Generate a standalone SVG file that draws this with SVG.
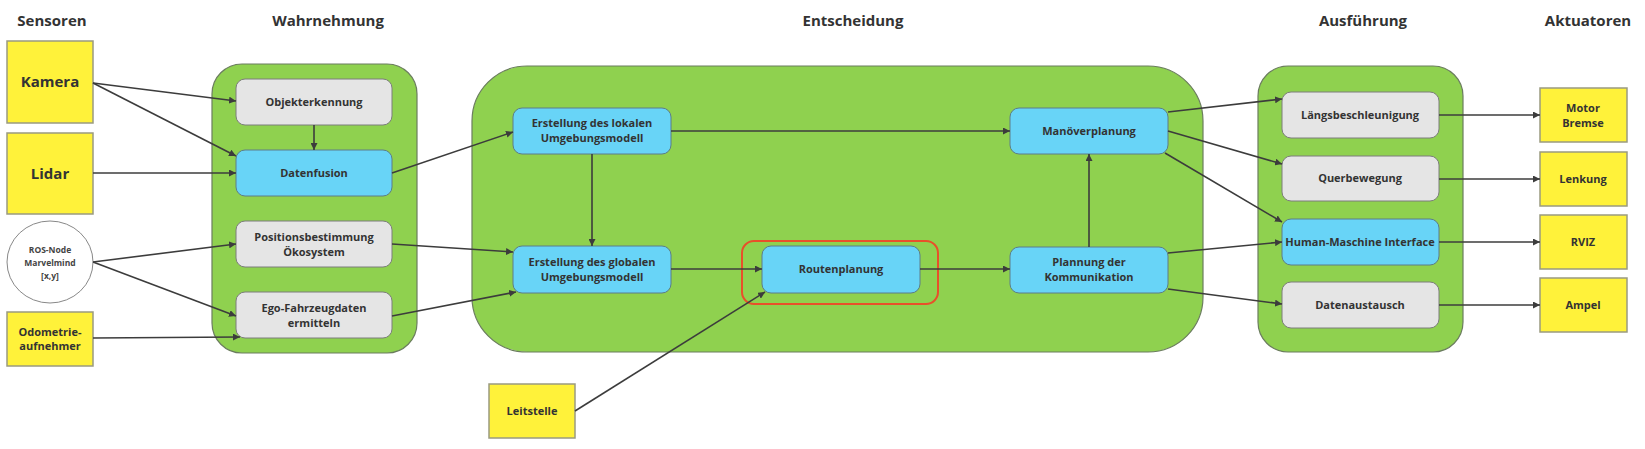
<svg xmlns="http://www.w3.org/2000/svg" width="1645" height="449" viewBox="0 0 1645 449">
<style>
.title{font-family:"Open Sans","Liberation Sans",sans-serif;font-weight:700;font-size:15px;fill:#333;text-anchor:middle}
.t{font-family:"Open Sans","Liberation Sans",sans-serif;font-weight:700;font-size:11px;fill:#333;text-anchor:middle}
.tb{font-family:"Open Sans","Liberation Sans",sans-serif;font-weight:700;font-size:15px;fill:#333;text-anchor:middle}
.ts{font-family:"Open Sans","Liberation Sans",sans-serif;font-weight:700;font-size:8.5px;fill:#444;text-anchor:middle}
.grp{fill:#8fd14f;stroke:#6b7d5e;stroke-width:1.2}
.gray{fill:#e5e5e5;stroke:#7d7d7d;stroke-width:1}
.blue{fill:#68d4f7;stroke:#5c7d8a;stroke-width:1}
.yel{fill:#fff23a;stroke:#9a9a80;stroke-width:1.5}
.c line,.c path{stroke:#3c3c3c;stroke-width:1.6;fill:none;marker-end:url(#ah)}
</style>
<defs>
<marker id="ah" viewBox="0 0 10 10" refX="10" refY="5" markerWidth="7" markerHeight="7" markerUnits="userSpaceOnUse" orient="auto">
<path d="M0,0 L10,5 L0,10 z" fill="#3c3c3c"/>
</marker>
</defs>
<rect width="1645" height="449" fill="#fff"/>

<g id="titles">
<text class="title" x="52" y="26">Sensoren</text>
<text class="title" x="328" y="26">Wahrnehmung</text>
<text class="title" x="853" y="26">Entscheidung</text>
<text class="title" x="1363" y="26">Ausführung</text>
<text class="title" x="1588" y="26">Aktuatoren</text>
</g>

<g id="wahrnehmung"><rect class="grp" x="212" y="64" width="205" height="289" rx="30"/></g>
<g id="entscheidung"><rect class="grp" x="472" y="66" width="731" height="286" rx="55"/></g>
<g id="ausfuehrung"><rect class="grp" x="1258" y="66" width="205" height="286" rx="30"/></g>

<g id="kamera"><rect class="yel" x="7" y="41" width="86" height="82"/><text class="tb" x="50" y="87">Kamera</text></g>
<g id="lidar"><rect class="yel" x="7" y="133" width="86" height="81"/><text class="tb" x="50" y="179">Lidar</text></g>
<g id="ros"><ellipse cx="50" cy="262" rx="43" ry="41" fill="#fff" stroke="#888" stroke-width="1"/>
<text class="ts" x="50" y="253">ROS-Node</text><text class="ts" x="50" y="266">Marvelmind</text><text class="ts" x="50" y="279">[x,y]</text></g>
<g id="odometrie"><rect class="yel" x="7" y="312" width="86" height="54"/><text class="t" x="50" y="336">Odometrie-</text><text class="t" x="50" y="350">aufnehmer</text></g>
<g id="leitstelle"><rect class="yel" x="489" y="384" width="86" height="54"/><text class="t" x="532" y="415">Leitstelle</text></g>

<g id="objekterkennung"><rect class="gray" x="236" y="79" width="156" height="46" rx="9"/><text class="t" x="314" y="106">Objekterkennung</text></g>
<g id="datenfusion"><rect class="blue" x="236" y="150" width="156" height="46" rx="9"/><text class="t" x="314" y="177">Datenfusion</text></g>
<g id="positionsbestimmung"><rect class="gray" x="236" y="221" width="156" height="46" rx="9"/><text class="t" x="314" y="241">Positionsbestimmung</text><text class="t" x="314" y="256">Ökosystem</text></g>
<g id="egofahrzeugdaten"><rect class="gray" x="236" y="292" width="156" height="46" rx="9"/><text class="t" x="314" y="312">Ego-Fahrzeugdaten</text><text class="t" x="314" y="327">ermitteln</text></g>

<g id="lokal"><rect class="blue" x="513" y="108" width="158" height="46" rx="9"/><text class="t" x="592" y="127">Erstellung des lokalen</text><text class="t" x="592" y="142">Umgebungsmodell</text></g>
<g id="global"><rect class="blue" x="513" y="246" width="158" height="47" rx="9"/><text class="t" x="592" y="266">Erstellung des globalen</text><text class="t" x="592" y="281">Umgebungsmodell</text></g>
<g id="routenplanung"><rect x="742" y="241" width="196" height="63" rx="12" fill="none" stroke="#e8502a" stroke-width="2"/><rect class="blue" x="762" y="246" width="158" height="47" rx="9"/><text class="t" x="841" y="273">Routenplanung</text></g>
<g id="manoever"><rect class="blue" x="1010" y="108" width="158" height="46" rx="9"/><text class="t" x="1089" y="135">Manöverplanung</text></g>
<g id="kommunikation"><rect class="blue" x="1010" y="247" width="158" height="46" rx="9"/><text class="t" x="1089" y="266">Plannung der</text><text class="t" x="1089" y="281">Kommunikation</text></g>

<g id="laengs"><rect class="gray" x="1282" y="92" width="157" height="46" rx="9"/><text class="t" x="1360" y="119">Längsbeschleunigung</text></g>
<g id="quer"><rect class="gray" x="1282" y="156" width="157" height="45" rx="9"/><text class="t" x="1360" y="182">Querbewegung</text></g>
<g id="hmi"><rect class="blue" x="1282" y="219" width="157" height="46" rx="9"/><text class="t" x="1360" y="246">Human-Maschine Interface</text></g>
<g id="datenaustausch"><rect class="gray" x="1282" y="282" width="157" height="46" rx="9"/><text class="t" x="1360" y="309">Datenaustausch</text></g>

<g id="motor"><rect class="yel" x="1540" y="88" width="87" height="54"/><text class="t" x="1583" y="112">Motor</text><text class="t" x="1583" y="127">Bremse</text></g>
<g id="lenkung"><rect class="yel" x="1540" y="152" width="87" height="54"/><text class="t" x="1583" y="183">Lenkung</text></g>
<g id="rviz"><rect class="yel" x="1540" y="215" width="87" height="54"/><text class="t" x="1583" y="246">RVIZ</text></g>
<g id="ampel"><rect class="yel" x="1540" y="278" width="87" height="54"/><text class="t" x="1583" y="309">Ampel</text></g>

<g id="connectors" class="c">
<line x1="93" y1="83" x2="236" y2="101"/>
<line x1="93" y1="83" x2="236" y2="156"/>
<line x1="93" y1="173" x2="236" y2="173"/>
<line x1="314" y1="125" x2="314" y2="150"/>
<line x1="93" y1="262" x2="236" y2="244"/>
<line x1="93" y1="262" x2="236" y2="316"/>
<line x1="93" y1="338" x2="240" y2="337"/>
<line x1="392" y1="173" x2="513" y2="132"/>
<line x1="392" y1="244" x2="513" y2="252"/>
<line x1="392" y1="316" x2="516" y2="292"/>
<line x1="671" y1="131" x2="1010" y2="131"/>
<line x1="592" y1="154" x2="592" y2="246"/>
<line x1="671" y1="269" x2="762" y2="269"/>
<line x1="575" y1="411" x2="765" y2="292"/>
<line x1="920" y1="269" x2="1010" y2="269"/>
<line x1="1089" y1="247" x2="1089" y2="154"/>
<line x1="1168" y1="112" x2="1282" y2="99"/>
<line x1="1168" y1="131" x2="1282" y2="164"/>
<line x1="1165" y1="153" x2="1282" y2="222"/>
<line x1="1168" y1="253" x2="1282" y2="242"/>
<line x1="1168" y1="289" x2="1282" y2="304"/>
<line x1="1439" y1="115" x2="1540" y2="115"/>
<line x1="1439" y1="179" x2="1540" y2="179"/>
<line x1="1439" y1="242" x2="1540" y2="242"/>
<line x1="1439" y1="305" x2="1540" y2="305"/>
</g>
</svg>
